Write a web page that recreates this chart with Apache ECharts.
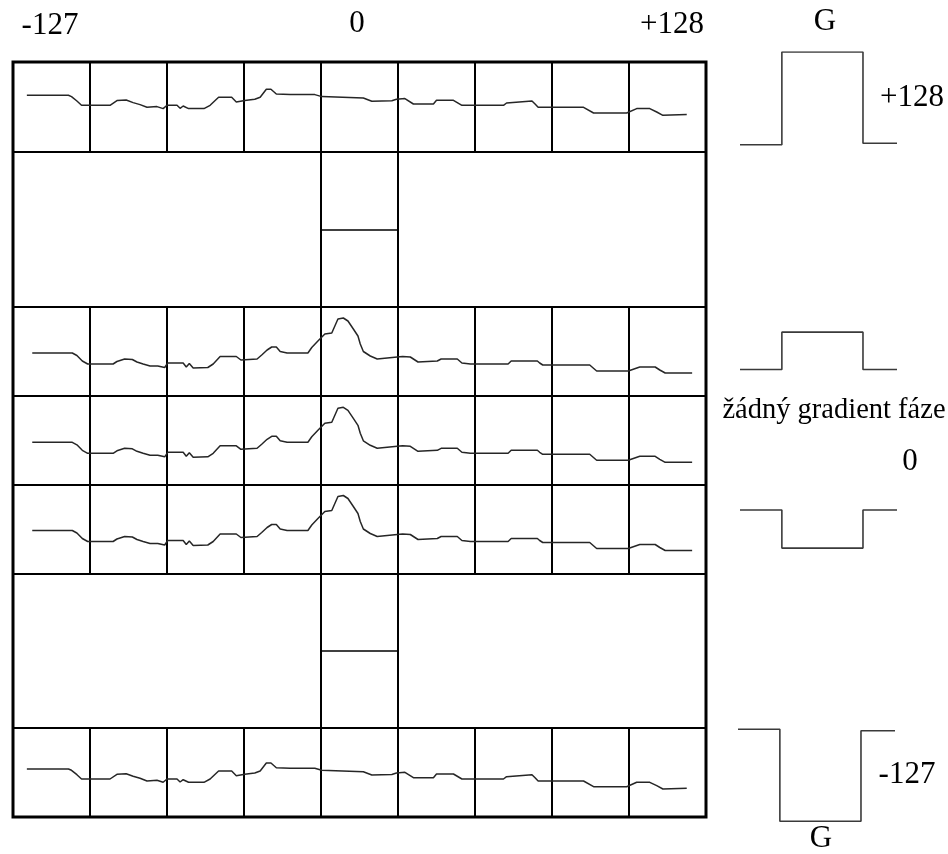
<!DOCTYPE html>
<html>
<head>
<meta charset="utf-8">
<script src="https://cdn.jsdelivr.net/npm/echarts@6/dist/echarts.min.js"></script>
<style>
  html, body { margin: 0; background: #fff; }
  #chart { width: 948px; height: 854px; }
</style>
</head>
<body>
<div id="chart"></div>
<script>
// echo signal with the peak (rows 3-5): [column position, amplitude]
const echoPeak = [
  [0.25, 0], [0.77, 0], [0.83, -2.5], [0.90, -8], [0.97, -11], [1.30, -11], [1.35, -8.5],
  [1.45, -6], [1.55, -6.5], [1.61, -9], [1.69, -11], [1.78, -13], [1.88, -13], [1.97, -14.5],
  [2.01, -10], [2.21, -10], [2.25, -14], [2.29, -10.5], [2.34, -15], [2.53, -14.5], [2.60, -11],
  [2.69, -3.5], [2.90, -3.5], [2.96, -7], [3.17, -6], [3.23, -2], [3.30, 3], [3.36, 6],
  [3.42, 6], [3.47, 1.5], [3.56, 0], [3.83, 0], [3.88, 5.5], [3.96, 12], [4.05, 19],
  [4.14, 20], [4.18, 27], [4.22, 34], [4.29, 35], [4.35, 32], [4.42, 24], [4.48, 17],
  [4.51, 9], [4.55, 1.5], [4.64, -3], [4.73, -6], [4.99, -4], [5.06, -3.5], [5.16, -4],
  [5.26, -9], [5.51, -8], [5.56, -6], [5.77, -6], [5.83, -10], [5.94, -11], [6.43, -11],
  [6.47, -8], [6.81, -8], [6.84, -10], [6.88, -12], [7.49, -12], [7.58, -18], [7.99, -18],
  [8.14, -14], [8.34, -14], [8.40, -17], [8.47, -20], [8.82, -20]
];

// echo signal without the peak (rows 1 and 7)
const echoFlat = [
  [0.18, 0], [0.72, 0], [0.76, -1.3], [0.83, -5.7], [0.89, -10], [1.26, -10], [1.35, -5.3],
  [1.47, -4.7], [1.56, -7.3], [1.65, -9.3], [1.74, -12], [1.87, -11.3], [1.95, -13.3],
  [2.00, -10], [2.13, -10], [2.17, -13], [2.21, -10.7], [2.28, -13.3], [2.48, -13.3],
  [2.56, -10], [2.67, -2], [2.84, -2], [2.90, -6.7], [3.01, -5.3], [3.14, -4], [3.21, -2],
  [3.29, 6], [3.35, 6], [3.42, 1.3], [3.60, 0.7], [3.92, 0.7], [4.01, -1.3], [4.55, -2.7],
  [4.66, -6], [4.92, -5.5], [4.98, -4], [5.09, -3.3], [5.20, -8.7], [5.46, -8.7], [5.50, -5],
  [5.72, -5], [5.83, -10], [6.37, -10], [6.41, -7.7], [6.74, -5.7], [6.78, -8.7], [6.82, -12],
  [7.41, -12], [7.54, -17.7], [7.97, -17.7], [8.10, -13.3], [8.27, -13.3], [8.36, -16.7],
  [8.44, -20], [8.75, -19.3]
];

// kind of each row and the level the echo starts at
const rowKinds = ['flat', 'blank', 'peak', 'peak', 'peak', 'blank', 'flat'];
const rowBaselines = [11.7, 0, -1.5, -1.8, -1, 0, 3.5];

// gradient lobes on the right
const pulseTime = [0, 4, 4, 11.75, 11.75, 15];
const pulseAmps = [
  [-1, -1, 128, 128, 1, 1],
  [0, 0, 52, 52, 0, 0],
  [0, 0, -53, -53, 0, 0],
  [1, 1, -127, -127, -1, -1]
];

const topLabels = ['-127', '0', '+128'];
const sideLabels = ['G', '+128', 'žádný gradient fáze', '0', '-127', 'G'];

// layout
const boxLeft = 13, colW = 77;
const rowTops = [62, 152, 307, 396, 485, 574, 728];
const rowHeights = [90, 155, 89, 89, 89, 154, 89];
const pulseLefts = [740, 740, 740, 738];
const pulseBase = [144, 369.5, 510, 730];
const lineColor = '#000';

const grid = [], xAxis = [], yAxis = [], series = [];

function hiddenAxis(extra) {
  return Object.assign({
    type: 'value',
    axisLine: { show: false },
    axisTick: { show: false },
    axisLabel: { show: false },
    splitLine: { show: false }
  }, extra);
}

function addGrid(g, xa, ya) {
  const idx = grid.length;
  grid.push(Object.assign({ containLabel: false }, g));
  xAxis.push(hiddenAxis(Object.assign({ gridIndex: idx }, xa)));
  yAxis.push(hiddenAxis(Object.assign({ gridIndex: idx }, ya)));
  return idx;
}

const cellBorder = { show: true, borderColor: lineColor, borderWidth: 2, backgroundColor: 'transparent' };

rowKinds.forEach((kind, r) => {
  const top = rowTops[r], h = rowHeights[r];
  if (kind === 'blank') {
    addGrid(Object.assign({ left: boxLeft, top: top, width: colW * 4, height: h }, cellBorder),
      { min: 0, max: 4 }, { min: 0, max: 1 });
    addGrid(Object.assign({ left: boxLeft + colW * 4, top: top, width: colW, height: h }, cellBorder),
      { min: 0, max: 1 },
      { min: 0, max: 2, interval: 1,
        splitLine: { show: true, showMinLine: false, showMaxLine: false,
          lineStyle: { color: lineColor, width: 1.5 } } });
    addGrid(Object.assign({ left: boxLeft + colW * 5, top: top, width: colW * 4, height: h }, cellBorder),
      { min: 0, max: 4 }, { min: 0, max: 1 });
    return;
  }
  const b = rowBaselines[r];
  const idx = addGrid(Object.assign({ left: boxLeft, top: top, width: colW * 9, height: h }, cellBorder),
    { min: 0, max: 9, interval: 1,
      splitLine: { show: true, showMinLine: false, showMaxLine: false,
        lineStyle: { color: lineColor, width: 2 } } },
    { min: -h / 2 - b, max: h / 2 - b });
  series.push({
    type: 'line',
    xAxisIndex: idx,
    yAxisIndex: idx,
    data: kind === 'peak' ? echoPeak : echoFlat,
    showSymbol: false,
    silent: true,
    lineStyle: { color: '#262626', width: 1.5 }
  });
});

// outer frame
addGrid({ left: boxLeft, top: rowTops[0], width: colW * 9, height: 817 - rowTops[0],
  show: true, borderColor: lineColor, borderWidth: 3, backgroundColor: 'transparent' },
  { min: 0, max: 1 }, { min: 0, max: 1 });

// gradient lobes
pulseAmps.forEach((amps, i) => {
  const idx = addGrid({ left: pulseLefts[i], top: pulseBase[i] - 92, width: 157, height: 184 },
    { min: 0, max: 15 }, { min: -128, max: 128 });
  series.push({
    type: 'line',
    xAxisIndex: idx,
    yAxisIndex: idx,
    data: pulseTime.map((t, k) => [t, amps[k]]),
    showSymbol: false,
    silent: true,
    lineStyle: { color: '#3a3a3a', width: 1.6 }
  });
});

const serif = '"Liberation Serif", "DejaVu Serif", serif';
function label(text, x, y, size) {
  return {
    type: 'text', x: x, y: y, silent: true,
    style: { text: text, fill: '#000', font: size + 'px ' + serif, align: 'center', verticalAlign: 'middle' }
  };
}

const topX = [50, 357, 672];
const topY = [26, 24, 25];
const sideX = [825, 912, 834, 910, 907, 821];
const sideY = [22, 98, 411, 462, 775, 839];
const sideSize = [31, 31, 28.5, 31, 31, 31];

const graphic = [];
topLabels.forEach((t, i) => graphic.push(label(t, topX[i], topY[i], 31)));
sideLabels.forEach((t, i) => graphic.push(label(t, sideX[i], sideY[i], sideSize[i])));

const chart = echarts.init(document.getElementById('chart'));
chart.setOption({
  animation: false,
  backgroundColor: '#fff',
  grid: grid,
  xAxis: xAxis,
  yAxis: yAxis,
  series: series,
  graphic: graphic
});
</script>
</body>
</html>
